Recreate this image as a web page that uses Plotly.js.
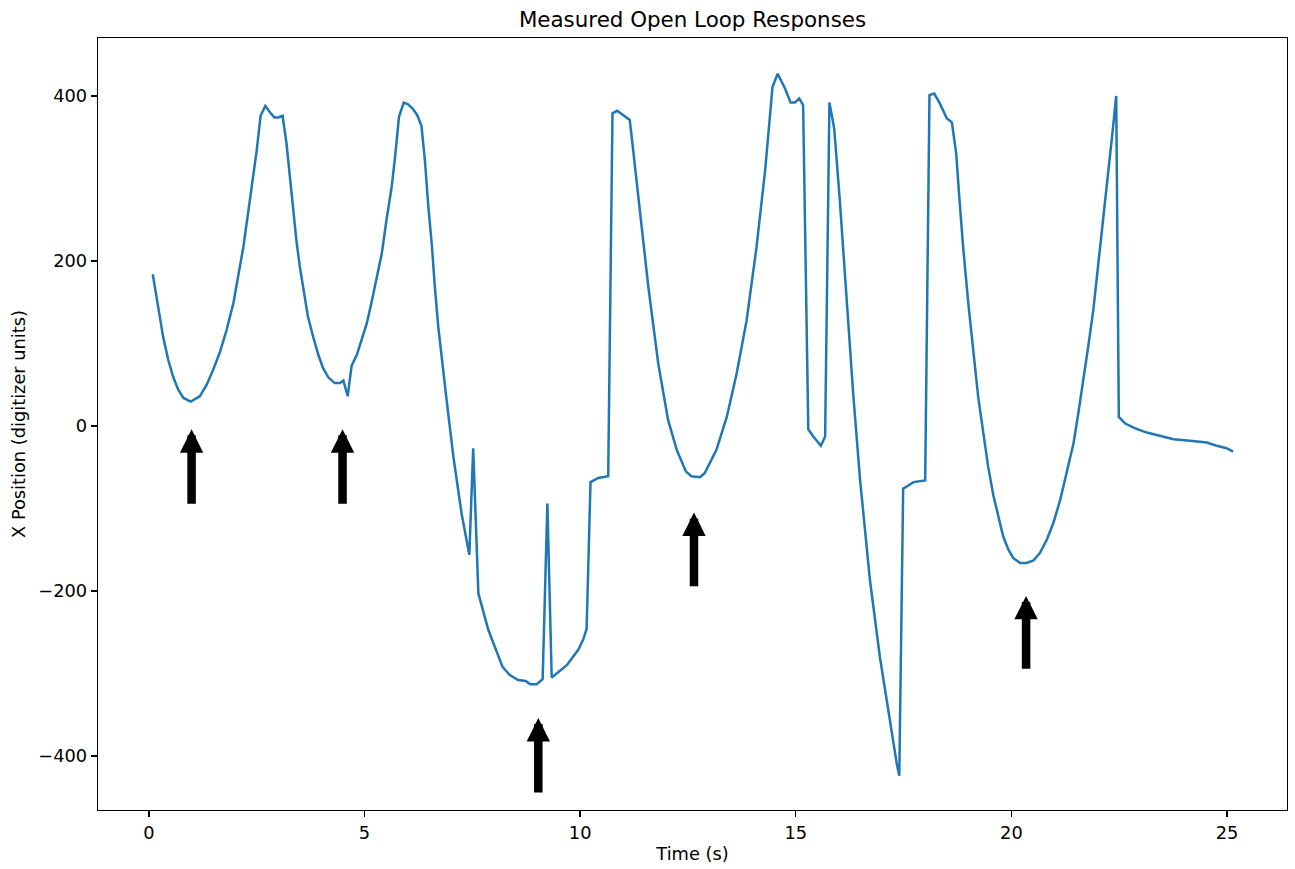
<!DOCTYPE html>
<html>
<head>
<meta charset="utf-8">
<script src="https://cdn.plot.ly/plotly-3.0.1.min.js"></script>
<style>html,body{margin:0;padding:0;background:#fff;}#chart{width:1295px;height:869px;}</style>
</head>
<body>
<div id="chart"></div>
<script>
const timeS = [0.09,0.22,0.33,0.45,0.56,0.68,0.80,0.97,1.18,1.34,1.49,1.65,1.80,1.96,2.07,2.19,2.30,2.42,2.50,2.59,2.70,2.81,2.91,3.00,3.10,3.19,3.27,3.35,3.42,3.50,3.58,3.69,3.81,3.93,4.04,4.16,4.31,4.43,4.51,4.61,4.70,4.82,4.93,5.05,5.16,5.28,5.40,5.51,5.63,5.70,5.80,5.91,6.01,6.11,6.22,6.32,6.40,6.48,6.56,6.63,6.71,6.90,7.06,7.25,7.43,7.52,7.64,7.87,8.20,8.37,8.56,8.74,8.84,8.99,9.13,9.24,9.34,9.69,9.96,10.07,10.15,10.24,10.42,10.65,10.75,10.86,11.15,11.23,11.39,11.58,11.81,12.04,12.24,12.45,12.58,12.78,12.89,13.16,13.40,13.63,13.86,14.09,14.29,14.46,14.58,14.75,14.88,14.98,15.08,15.17,15.29,15.41,15.58,15.68,15.78,15.89,16.02,16.18,16.33,16.49,16.72,16.95,17.15,17.34,17.40,17.49,17.73,18.00,18.10,18.21,18.34,18.50,18.62,18.72,18.79,18.88,19.00,19.12,19.23,19.35,19.46,19.58,19.70,19.81,19.93,20.04,20.20,20.35,20.51,20.66,20.82,20.97,21.13,21.28,21.44,21.55,21.67,21.78,21.90,22.01,22.13,22.25,22.35,22.43,22.49,22.64,22.87,23.14,23.45,23.76,24.14,24.53,24.76,24.99,25.14];
const xPosition = [184,145,108,80,60,44,34,29.5,36,50,68,90,116,149,181,217,258,302,334,376,388,380,374,374,376,343,302,262,225,193,165,132,108,86,70,59,52,52,55,36,73,86,104,124,149,177,209,250,290,322,375,392,390,385,377,364,322,266,220,169,120,33,-37,-106,-156,-27,-203,-247,-292,-302,-308,-309,-313,-313,-307,-94,-305,-290,-271,-259,-246,-68,-63,-61,379,382,371,334,258,169,76,7,-29,-55,-61,-62,-57,-29,11,64,128,217,310,411,427,409,392,392,397,389,-4,-13,-24,-13,392,361,274,153,40,-65,-187,-280,-348,-409,-424,-76,-68,-66,401,403,391,373,368,330,278,217,149,88,35,-9,-49,-84,-110,-134,-150,-160,-166,-166,-163,-154,-138,-118,-90,-57,-21,15,56,96,141,193,250,310,359,400,11,3,-3,-8,-12,-16,-18,-20,-24,-27,-31];

const arrowX = [0.99,4.49,9.03,12.64,20.34];
const arrowTipY = [-4,-4,-354,-105,-206];
const arrowTailY = [-96,-96,-446,-196,-296];

const xTicks = [0,5,10,15,20,25];
const yTicks = [-400,-200,0,200,400];

const FONT = 'DejaVu Sans';

const annotations = arrowX.map((x,i)=>({
  x: x, y: arrowTipY[i], ax: x, ay: arrowTailY[i],
  xref:'x', yref:'y', axref:'x', ayref:'y',
  text:'', showarrow:true, arrowhead:2, arrowsize:0.55, arrowwidth:8.5,
  arrowcolor:'#000000', standoff:0
}));

const trace = {
  x: timeS, y: xPosition, type:'scatter', mode:'lines',
  line:{color:'#1f77b4', width:2.5}, hoverinfo:'skip'
};

const axisCommon = {
  showgrid:false, zeroline:false, showline:true, mirror:true,
  linecolor:'#000', linewidth:1.33, ticks:'outside', ticklen:6, tickwidth:1.33, tickcolor:'#000',
  tickfont:{family:FONT, size:17.8, color:'#000'}
};

const layout = {
  width:1295, height:869,
  margin:{l:98, r:8, t:38, b:59},
  paper_bgcolor:'#fff', plot_bgcolor:'#fff',
  font:{family:FONT, color:'#000'},
  showlegend:false,
  title:{text:'Measured Open Loop Responses', font:{family:FONT, size:21.4, color:'#000'},
         x:(98 + (1295-98-8)/2)/1295, xanchor:'center', yref:'container', y:1-20/869, yanchor:'middle'},
  xaxis:Object.assign({}, axisCommon, {
    range:[-1.18,26.39], tickvals:xTicks, ticktext:xTicks.map(String),
    title:{text:'Time (s)', font:{family:FONT, size:17.8, color:'#000'}, standoff:6}
  }),
  yaxis:Object.assign({}, axisCommon, {
    range:[-465.5,470.3], tickvals:yTicks, ticktext:yTicks.map(v=>v<0?'\u2212'+Math.abs(v):String(v)),
    title:{text:'X Position (digitizer units)', font:{family:FONT, size:17.8, color:'#000'}, standoff:8}
  }),
  annotations: annotations
};

Plotly.newPlot('chart',[trace],layout,{displayModeBar:false, staticPlot:true});
</script>
</body>
</html>
